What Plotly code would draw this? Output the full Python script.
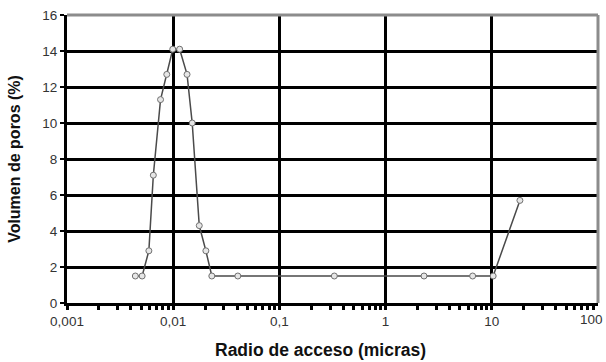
import plotly.graph_objects as go

radio = [0.0044, 0.0051, 0.0059, 0.0065, 0.0076, 0.0087, 0.0099, 0.0115,
         0.0135, 0.0151, 0.0176, 0.0203, 0.0231, 0.0406, 0.329, 2.30, 6.6, 10.3, 18.4]
volumen = [1.5, 1.5, 2.9, 7.1, 11.3, 12.7, 14.1, 14.1,
           12.7, 10.0, 4.3, 2.9, 1.5, 1.5, 1.5, 1.5, 1.5, 1.5, 5.7]

x_tickvals = [0.001, 0.01, 0.1, 1, 10, 100]
x_ticktext = ["0,001", "0,01", "0,1", "1", "10", "100"]
y_tickvals = [0, 2, 4, 6, 8, 10, 12, 14, 16]

x_title = "Radio de acceso (micras)"
y_title = "Volumen de poros (%)"

minor_vals = [m * d for d in [0.001, 0.01, 0.1, 1, 10] for m in range(2, 10)]

font = "Liberation Sans, Arial, sans-serif"
tick_font = dict(size=13.5, color="#333", family=font)

fig = go.Figure()
fig.add_trace(go.Scatter(
    x=radio, y=volumen, mode="lines+markers",
    line=dict(color="#4a4a4a", width=1.5),
    marker=dict(symbol="circle", size=6, color="#e6e6e6",
                line=dict(color="#707070", width=1)),
    showlegend=False,
))

fig.update_layout(
    width=606, height=362,
    margin=dict(l=67, r=8, t=15, b=59, autoexpand=False),
    paper_bgcolor="white", plot_bgcolor="white",
    font=dict(family=font, size=12, color="#222"),
    xaxis=dict(
        type="log", range=[-3, 2], automargin=False,
        tickvals=x_tickvals[:-1], ticktext=x_ticktext[:-1],
        showgrid=True, gridcolor="black", gridwidth=3,
        showline=True, linecolor="black", linewidth=3,
        ticks="outside", ticklen=4, tickwidth=3, tickcolor="black",
        minor=dict(tickvals=minor_vals, ticks="outside", ticklen=4,
                   tickwidth=3, tickcolor="black", showgrid=False),
        tickfont=tick_font,
        zeroline=False,
    ),
    yaxis=dict(
        range=[0, 16], tickvals=y_tickvals, automargin=False,
        showgrid=True, gridcolor="black", gridwidth=3,
        showline=True, linecolor="black", linewidth=3,
        ticks="outside", ticklen=4, tickwidth=2, tickcolor="black",
        title=dict(text="<b>" + y_title + "</b>", font=dict(size=16, family=font, color="#111"), standoff=18),
        tickfont=tick_font,
        zeroline=False,
    ),
    shapes=[
        dict(type="line", xref="x domain", yref="y domain", x0=0, x1=1, y0=1, y1=1,
             line=dict(color="#8c8c8c", width=3), layer="above"),
        dict(type="line", xref="x domain", yref="y domain", x0=1, x1=1, y0=0, y1=1,
             line=dict(color="#8c8c8c", width=3), layer="above"),
    ],
    annotations=[
        dict(x=2, y=0, xref="x", yref="y", text=x_ticktext[-1], showarrow=False,
             xanchor="center", yanchor="top", yshift=-7, xshift=-7, font=tick_font),
        dict(x=0.4765, y=0, xref="paper", yref="paper", text="<b>" + x_title + "</b>",
             showarrow=False, xanchor="center", yanchor="middle", yshift=-47,
             font=dict(size=17.5, family=font, color="#111")),
    ],
)

fig.write_html("out.html", config={"displayModeBar": False},
               post_script="document.body.style.margin='0';document.body.style.overflow='hidden';")
